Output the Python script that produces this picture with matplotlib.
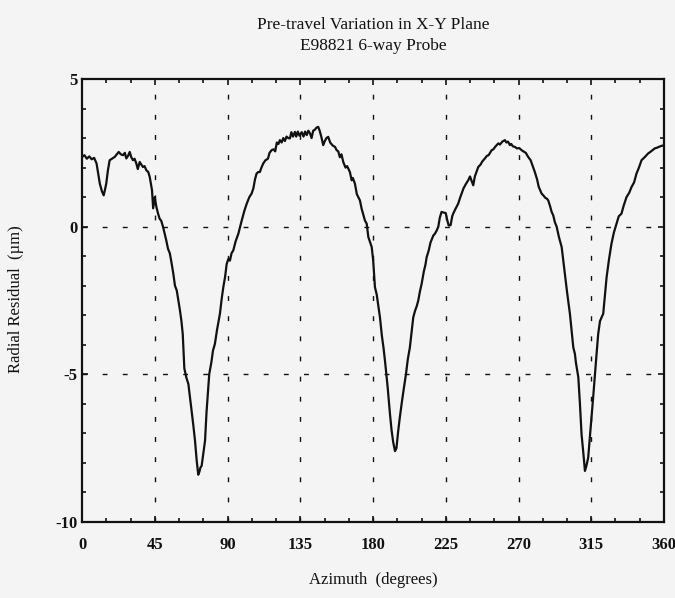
import matplotlib
matplotlib.use("Agg")
import matplotlib.pyplot as plt
from matplotlib.ticker import MultipleLocator

title_lines = ["Pre-travel Variation in X-Y Plane", "E98821 6-way Probe"]
x_label = "Azimuth  (degrees)"
y_label = "Radial Residual  (\u00b5m)"
x_ticks = [0, 45, 90, 135, 180, 225, 270, 315, 360]
y_ticks = [-10, -5, 0, 5]

azimuth = [
    0, 1.5, 3, 4.5, 6, 7.5, 9, 10, 11, 12.3, 13.4, 14.2, 15, 16, 17.1, 18.5,
    20.2, 21.5, 22.7, 24, 25.4, 26.5, 27.4, 28.5, 29.5, 30.5, 31.5, 32.5,
    33.6, 34.5, 35.7, 36.7, 37.7, 38.7, 39.8, 41, 41.9, 42.6, 43.3, 44, 45,
    46, 47, 48, 49, 50.1, 51, 52.1, 53.2, 54.3, 55.3, 56.5, 57.5, 58.6, 59.6,
    60.6, 61.5, 62.3, 62.8, 63.3, 64.5, 65.8, 66.8, 67.8, 68.8, 69.9, 70.9,
    71.9, 72.6, 73.3, 74.0, 75, 76.1, 77, 78, 78.7, 80, 81, 82.2, 83.5, 85.3,
    86.5, 87.4, 88.5, 89.5, 90.5, 91.5, 92.5, 93.6, 95, 96.7, 98.8, 100.5,
    101.9, 103.5, 104.9, 106, 107, 108, 109, 110, 111, 112.1, 113.5, 115, 116,
    117.3, 118.5, 119.5, 120.5, 121.5, 122.4, 123.5, 124.5, 125.5, 126.5,
    127.5, 128.6, 129.5, 130.5, 131.7, 132.5, 133.5, 134.5, 135.9, 137, 138,
    139, 140, 141, 142, 143, 144, 145, 146.1, 147, 148, 149.2, 150.2, 151.2,
    152.3, 153.5, 155, 156.5, 157.5, 158.5, 159.5, 160.5, 161.6, 163, 164,
    165.7, 166.8, 167.5, 168.8, 170, 171.9, 173, 174, 175, 176.1, 177.1, 178,
    179.2, 180.1, 181.2, 182.3, 184.3, 185.5, 186.5, 187.4, 189, 190.5, 191.5,
    192.5, 193.6, 194.5, 195.2, 195.6, 196.5, 197.7, 199, 200.4, 201.5, 202.8,
    203.8, 204.9, 206, 207, 208.0, 209, 210.1, 211.5, 212.4, 213.2, 214.5,
    215.5, 217.3, 218.3, 219.4, 220.4, 221.3, 222.4, 223.5, 225, 225.8, 226.8,
    228.0, 229, 229.6, 231, 232.7, 234, 234.8, 236, 237.5, 238.9, 240, 241,
    242.0, 243, 244, 245.1, 246.5, 247.5, 249.2, 250.5, 251.5, 253.4, 254.5,
    255.5, 257.5, 258.5, 260, 261.6, 262.5, 263.5, 264.7, 265.5, 266.5, 267.8,
    269, 270.5, 271.9, 273, 274.5, 276.0, 277.5, 278.5, 280.1, 281.5, 282.5,
    284.3, 285.5, 286.5, 287.5, 288.4, 289.5, 290.5, 291.5, 292.5, 293.6, 295,
    296.7, 298.7, 300, 301.8, 302.8, 303.9, 304.9, 305.5, 307.0, 308, 309.0,
    310, 311.1, 312, 313.1, 314.2, 315.2, 316.3, 317.3, 318.3, 319.3, 320.4,
    321.4, 322.4, 323.5, 324.5, 326, 327.5, 329, 330.6, 332, 333.7, 335, 336.8,
    338.5, 339.9, 341.5, 343.0, 344.5, 346.1, 348, 350.2, 352, 354.3, 356,
    358.1, 359.5,
]

residual = [
    2.36, 2.42, 2.3, 2.38, 2.28, 2.33, 2.14, 1.8, 1.46, 1.2, 1.06, 1.25, 1.46,
    1.9, 2.25, 2.3, 2.36, 2.45, 2.53, 2.45, 2.42, 2.5, 2.31, 2.4, 2.53, 2.35,
    2.25, 2.3, 2.14, 1.95, 2.19, 2.1, 2.02, 2.05, 1.91, 1.85, 1.68, 1.45, 1.23,
    0.62, 1.0, 0.67, 0.45, 0.27, 0.2, 0.0, -0.2, -0.46, -0.75, -0.9, -1.2,
    -1.6, -2.0, -2.16, -2.5, -2.84, -3.2, -3.63, -4.2, -4.8, -5.1, -5.33,
    -5.8, -6.24, -6.7, -7.25, -7.9, -8.4, -8.3, -8.15, -8.1, -7.7, -7.25,
    -6.3, -5.5, -4.99, -4.6, -4.2, -3.97, -3.5, -2.95, -2.4, -2.05, -1.7,
    -1.26, -1.1, -1.15, -0.9, -0.8, -0.5, -0.24, 0.21, 0.55, 0.78, 1.0, 1.12,
    1.3, 1.6, 1.8, 1.85, 1.85, 2.0, 2.14, 2.25, 2.3, 2.5, 2.59, 2.62, 2.55,
    2.85, 2.8, 2.93, 2.85, 3.0, 2.9, 3.05, 3.0, 2.99, 3.2, 3.05, 3.21, 3.05,
    3.22, 3.08, 3.2, 3.05, 3.22, 3.1, 3.25, 3.16, 3.0, 3.25, 3.28, 3.35, 3.38,
    3.25, 3.05, 2.76, 2.9, 3.0, 3.04, 2.85, 2.75, 2.7, 2.59, 2.55, 2.35, 2.45,
    2.19, 2.0, 2.05, 1.85, 1.57, 1.65, 1.46, 1.1, 0.89, 0.6, 0.4, 0.21, 0.1,
    -0.35, -0.5, -0.69, -1.14, -2.05, -2.3, -3.07, -3.7, -4.1, -4.54, -5.4,
    -6.35, -6.9, -7.3, -7.6, -7.5, -7.1, -6.91, -6.5, -6.0, -5.5, -4.99, -4.5,
    -4.09, -3.6, -3.07, -2.85, -2.7, -2.5, -2.2, -1.93, -1.5, -1.3, -1.03,
    -0.8, -0.55, -0.3, -0.24, -0.13, 0.0, 0.3, 0.5, 0.48, 0.46, 0.25, 0.04,
    0.05, 0.35, 0.44, 0.6, 0.78, 1.0, 1.12, 1.3, 1.45, 1.57, 1.7, 1.55, 1.4,
    1.7, 1.85, 2.02, 2.1, 2.2, 2.31, 2.4, 2.42, 2.59, 2.62, 2.7, 2.82, 2.78,
    2.88, 2.93, 2.85, 2.88, 2.76, 2.8, 2.72, 2.7, 2.65, 2.66, 2.59, 2.55, 2.5,
    2.36, 2.25, 2.1, 1.85, 1.6, 1.35, 1.12, 1.05, 0.98, 0.95, 0.89, 0.7, 0.5,
    0.38, 0.15, 0.0, -0.35, -0.69, -1.6, -2.2, -2.95, -3.5, -4.09, -4.31, -4.6,
    -5.1, -6.0, -7.03, -7.6, -8.27, -8.1, -7.82, -7.1, -6.46, -5.7, -4.99,
    -4.3, -3.63, -3.2, -3.07, -2.95, -2.3, -1.71, -1.1, -0.58, -0.2, 0.1, 0.35,
    0.44, 0.7, 1.0, 1.15, 1.34, 1.5, 1.8, 2.0, 2.25, 2.35, 2.48, 2.55, 2.65,
    2.68, 2.73, 2.75,
]

serif = ["Liberation Serif", "DejaVu Serif"]
bg = "#f3f4f3"
ink = "#111111"

fig = plt.figure(figsize=(6.75, 5.98), dpi=100, facecolor=bg)
ax = fig.add_axes([0.1215, 0.1271, 0.8622, 0.7408], facecolor=bg)

ax.plot(azimuth, residual, color=ink, lw=1.6, zorder=3)

ax.set_xlim(0, 360)
ax.set_ylim(-10, 5)
ax.set_xticks(x_ticks)
ax.set_yticks(y_ticks)
ax.xaxis.set_minor_locator(MultipleLocator(15))
ax.yaxis.set_minor_locator(MultipleLocator(1))
ax.set_xticklabels([str(t) for t in x_ticks], family=serif, fontsize=12, fontweight="bold", color=ink)
ax.set_yticklabels([str(t) for t in y_ticks], family=serif, fontsize=12, fontweight="bold", color=ink)
ax.tick_params(which="both", direction="in", top=True, right=True, color=ink, width=1.2)
ax.tick_params(which="major", length=4)
ax.tick_params(which="minor", length=3)
ax.tick_params(axis="x", which="major", pad=11)
ax.tick_params(axis="y", which="major", pad=3)

for s in ax.spines.values():
    s.set_linewidth(1.6)
    s.set_color(ink)

for gx in x_ticks[1:-1]:
    ax.axvline(gx, color=ink, lw=1.0, ls=(0, (3.5, 11)), zorder=1)
for gy in [0, -5]:
    ax.axhline(gy, color=ink, lw=1.0, ls=(0, (3.5, 11)), zorder=1)

fig.text(0.553, 0.972, title_lines[0], ha="center", va="top", family=serif, fontsize=12.5, color=ink)
fig.text(0.553, 0.937, title_lines[1], ha="center", va="top", family=serif, fontsize=12.5, color=ink)
fig.text(0.553, 0.03, x_label, ha="center", va="center", family=serif, fontsize=12, color=ink)
fig.text(0.024, 0.50, y_label, ha="center", va="center", rotation=90, family=serif, fontsize=12, color=ink)

fig.savefig("out.png", dpi=100, facecolor=bg)
